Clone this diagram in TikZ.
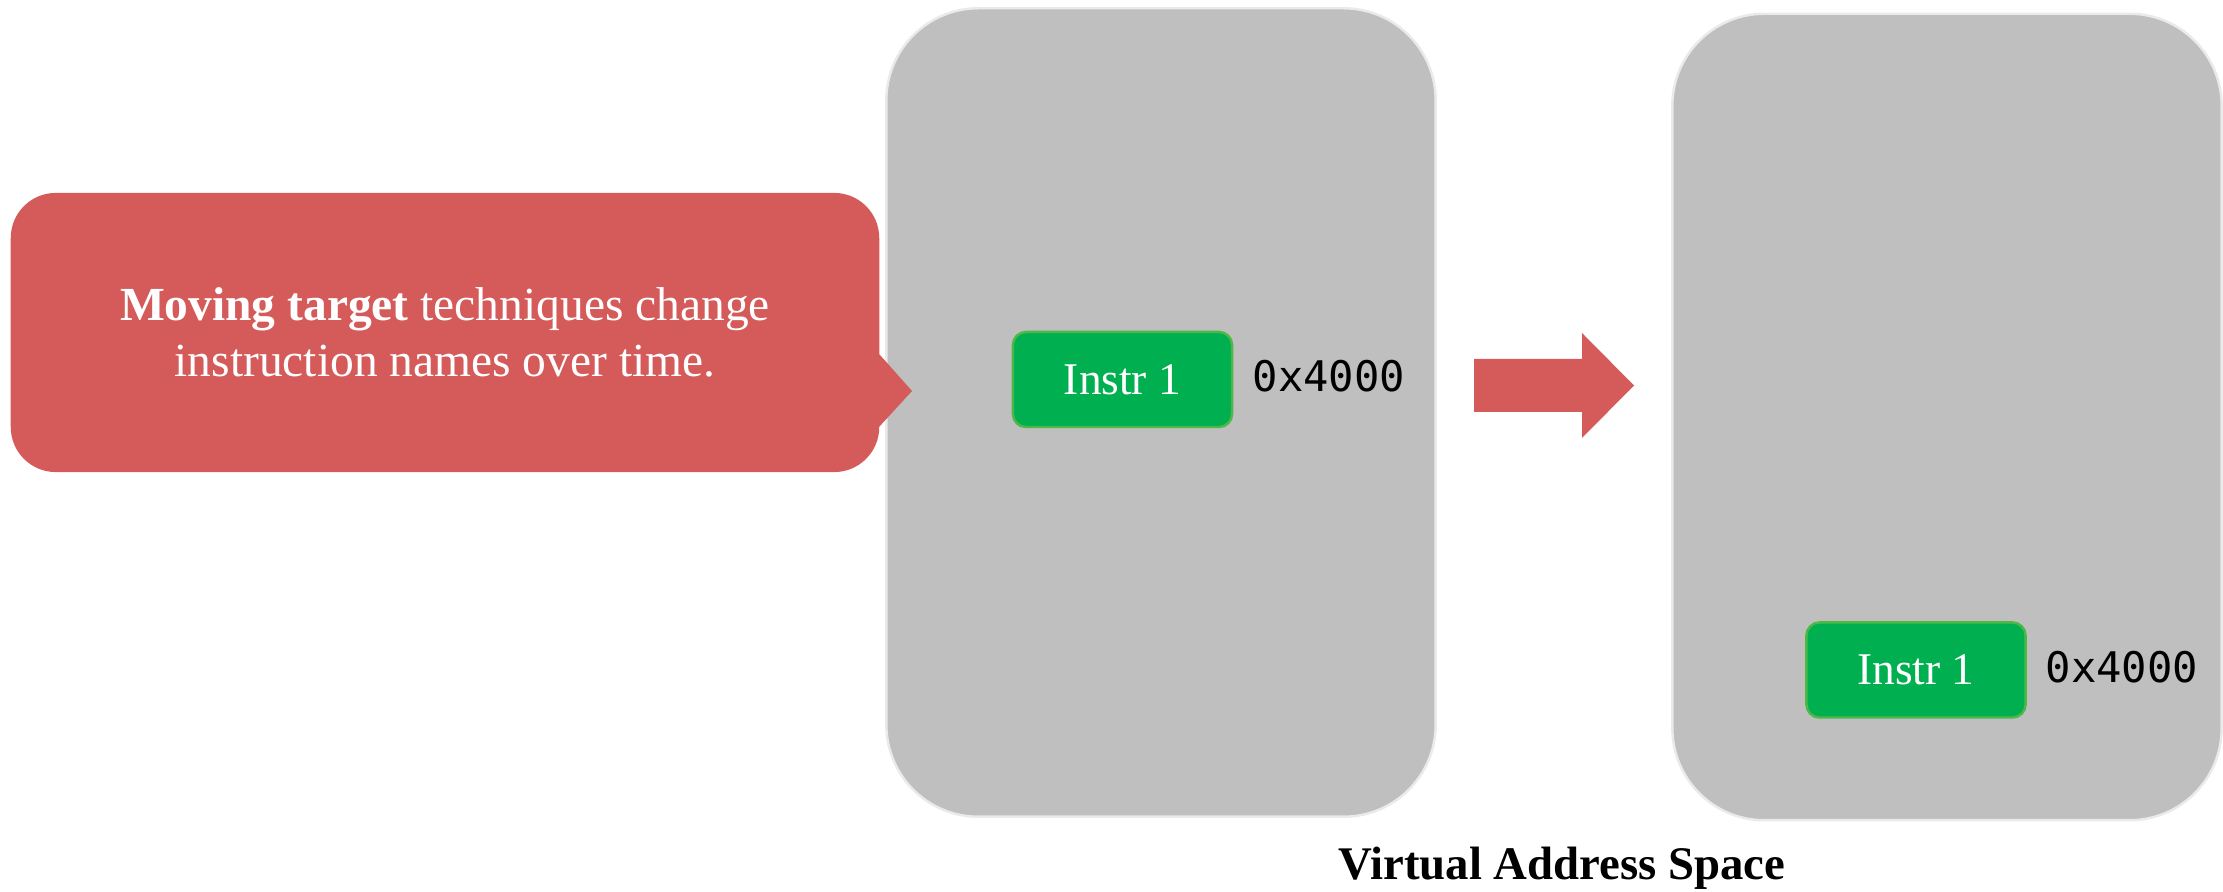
\documentclass[tikz,border=0pt]{standalone}
\usepackage{fontspec}
\setmainfont{Liberation Serif}
\setmonofont{DejaVu Sans Mono}
\usetikzlibrary{calc}
\definecolor{calloutred}{HTML}{D55A5A}
\definecolor{vasgray}{HTML}{BFBFBF}
\definecolor{vasedge}{HTML}{EAEAEA}
\definecolor{instrgreen}{HTML}{00B050}
\definecolor{instredge}{HTML}{4DB848}
\tikzset{
  vasbox/.style={draw=vasedge, line width=0.7pt, fill=vasgray,
    rounded corners=0.92cm, minimum width=5.49cm, minimum height=8.08cm, inner sep=0pt},
  instrbox/.style={draw=instredge, line width=0.7pt, fill=instrgreen, rounded corners=0.13cm,
    minimum width=2.19cm, minimum height=0.95cm, inner sep=0pt, text=white,
    font=\fontsize{12.9pt}{15pt}\selectfont},
  addr/.style={anchor=base west, inner sep=0pt, font=\ttfamily\fontsize{12pt}{14pt}\selectfont},
  callout/.style={fill=calloutred, rounded corners=0.45cm, minimum width=8.68cm,
    minimum height=2.79cm, inner sep=0pt, text=white, align=center,
    font=\fontsize{13.5pt}{15.9pt}\selectfont},
}
\begin{document}
\begin{tikzpicture}[x=0.01cm, y=-0.01cm]
\useasboundingbox (0,0) rectangle (2223,892);

% two snapshots of the virtual address space
\node[vasbox] (vas1) at (1161,412.5) {};
\node[vasbox, minimum height=8.06cm] (vas2) at (1947,417) {};

% instruction blocks and their addresses
\node[instrbox] (instr1) at (1122.5,379.5) {Instr 1};
\node[addr] (addr1) at (1252,392) {0x4000};
\node[instrbox] (instr2) at (1916,670) {Instr 1};
\node[addr] (addr2) at (2045,683) {0x4000};

% callout with its pointer
\node[callout] (note) at (445,332.5) {\textbf{Moving target} techniques change\\instruction names over time.};
\fill[calloutred] ($(note.east |- 0,355)+(-10,-10)$) -- (note.east |- 0,355) -- (912,391)
  -- (note.east |- 0,426) -- ($(note.east |- 0,426)+(-10,10)$) -- cycle;

% block arrow between the two snapshots
\coordinate (tail) at (1474,385.5);
\coordinate (tip) at (1634,385.5);
\fill[calloutred] ($(tail)+(0,-26.5)$) -- ++(108,0) -- ++(0,-26) -- (tip)
  -- ($(tail)+(108,52.5)$) -- ++(0,-26) -- ($(tail)+(0,26.5)$) -- cycle;

% caption
\node[anchor=base, inner sep=0pt, font=\bfseries\fontsize{13.3pt}{16pt}\selectfont] (caption) at (1562,880) {Virtual Address Space};
\end{tikzpicture}
\end{document}
